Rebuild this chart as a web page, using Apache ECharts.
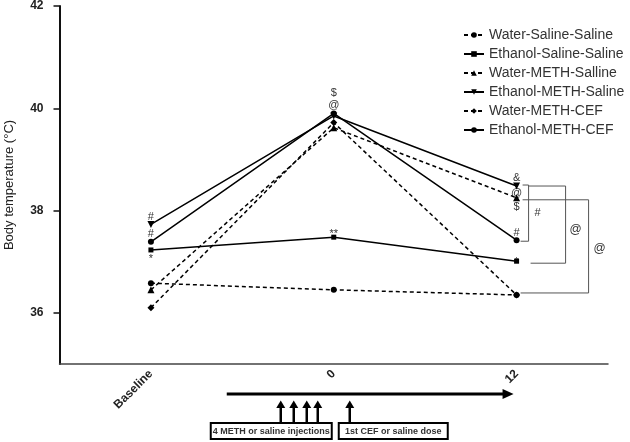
<!DOCTYPE html>
<html>
<head>
<meta charset="utf-8">
<script src="https://cdn.jsdelivr.net/npm/echarts@6/dist/echarts.min.js"></script>
<style>html,body{margin:0;padding:0;background:#fff}#c{width:630px;height:442px}</style>
</head>
<body>
<div id="c"></div>
<script>
var categories = ['Baseline', '0', '12'];
var yTicks = [36, 38, 40, 42];
var seriesNames = ['Water-Saline-Saline', 'Ethanol-Saline-Saline', 'Water-METH-Salline', 'Ethanol-METH-Saline', 'Water-METH-CEF', 'Ethanol-METH-CEF'];
var waterSalineSaline = [36.58, 36.45, 36.35];
var ethanolSalineSaline = [37.23, 37.48, 37.01];
var waterMethSaline = [36.45, 39.62, 38.25];
var ethanolMethSaline = [37.73, 39.85, 38.48];
var waterMethCef = [36.10, 39.72, 36.35];
var ethanolMethCef = [37.39, 39.90, 37.42];
var injectionText = '4 METH or saline injections';
var doseText = '1st CEF or saline dose';

var FONT = '"Liberation Sans", Arial, sans-serif';
var chart = echarts.init(document.getElementById('c'), null, {renderer: 'canvas'});

function mk(name, data, dashed, symbol, size, rot) {
  return {
    name: name, type: 'line', data: data,
    symbol: symbol, symbolSize: size, symbolRotate: rot || 0,
    itemStyle: {color: '#000'},
    lineStyle: {color: '#000', width: 1.5, type: dashed ? [4, 3] : 'solid'},
    emphasis: {disabled: true}
  };
}

var option = {
  animation: false,
  grid: {left: 59.5, right: 22, top: 6, bottom: 78, containLabel: false, outerBoundsMode: 'none'},
  legend: {
    orient: 'vertical', left: 458, top: 23,
    itemWidth: 20, itemHeight: 7, itemGap: 5,
    textStyle: {fontFamily: FONT, fontSize: 14, color: '#333', lineHeight: 14},
    data: seriesNames
  },
  xAxis: {
    type: 'category', data: categories, boundaryGap: true,
    axisLine: {lineStyle: {color: '#444', width: 1.5}},
    axisTick: {alignWithLabel: true, length: 5, lineStyle: {color: '#444', width: 1.5}},
    axisLabel: {rotate: 45, margin: 8, fontFamily: FONT, fontSize: 12, fontWeight: 'bold', color: '#222'}
  },
  yAxis: {
    type: 'value', min: 35, max: 42,
    name: 'Body temperature (\u00B0C)', nameLocation: 'middle', nameGap: 44,
    nameTextStyle: {fontFamily: FONT, fontSize: 13, color: '#222'},
    splitLine: {show: false},
    axisLine: {show: true, lineStyle: {color: '#111', width: 2}},
    axisTick: {show: true, length: 6, customValues: yTicks, lineStyle: {color: '#111', width: 1.5}},
    axisLabel: {customValues: yTicks, margin: 16, fontFamily: FONT, fontSize: 12, fontWeight: 'bold', color: '#222'}
  },
  series: [
    mk(seriesNames[0], waterSalineSaline, true, 'circle', 6),
    mk(seriesNames[1], ethanolSalineSaline, false, 'rect', 5),
    mk(seriesNames[2], waterMethSaline, true, 'triangle', 7),
    mk(seriesNames[3], ethanolMethSaline, false, 'triangle', 7, 180),
    mk(seriesNames[4], waterMethCef, true, 'diamond', 7),
    mk(seriesNames[5], ethanolMethCef, false, 'circle', 6)
  ]
};
chart.setOption(option);

function px(ci, v) { return chart.convertToPixel({xAxisIndex: 0, yAxisIndex: 0}, [ci, v]); }
var g = [];
function txt(s, x, y, size, weight, align) {
  g.push({type: 'text', silent: true, style: {text: s, x: x, y: y, fill: '#333', fontFamily: FONT, fontSize: size || 11, fontWeight: weight || 'normal', align: align || 'center', verticalAlign: 'middle'}});
}
function ln(x1, y1, x2, y2, w, c) {
  g.push({type: 'line', silent: true, shape: {x1: x1, y1: y1, x2: x2, y2: y2}, style: {stroke: c || '#555', lineWidth: w || 1}});
}
function poly(pts) {
  g.push({type: 'polygon', silent: true, shape: {points: pts}, style: {fill: '#000'}});
}

// significance marks
var b0 = px(0, ethanolMethSaline[0]); txt('#', b0[0], b0[1] - 7);
var b1 = px(0, ethanolMethCef[0]); txt('#', b1[0], b1[1] - 8);
var b2 = px(0, ethanolSalineSaline[0]); txt('*', b2[0], b2[1] + 9);
var z0 = px(1, ethanolMethCef[1]); txt('@', z0[0], z0[1] - 8); txt('$', z0[0], z0[1] - 20);
var z1 = px(1, ethanolSalineSaline[1]); txt('**', z1[0], z1[1] - 3);
var t0 = px(2, ethanolMethSaline[2]); txt('&', t0[0], t0[1] - 8);
var t1 = px(2, waterMethSaline[2]); txt('@', t1[0], t1[1] - 5); txt('$', t1[0], t1[1] + 9);
var t2 = px(2, ethanolMethCef[2]); txt('#', t2[0], t2[1] - 7);
var t3 = px(2, ethanolSalineSaline[2]); txt('*', t3[0], t3[1] + 1);
var t4 = px(2, waterSalineSaline[2]);

// brackets
var x12 = t0[0];
ln(x12 + 6, t0[1] - 1, x12 + 12, t0[1] - 1); ln(x12 + 12, t0[1] - 1, x12 + 12, t2[1] + 1); ln(x12 + 4, t2[1] + 1, x12 + 12, t2[1] + 1);
txt('#', x12 + 21, (t0[1] + t2[1]) / 2, 11);
ln(x12 + 12, t0[1], x12 + 49, t0[1]); ln(x12 + 49, t0[1], x12 + 49, t3[1] + 2); ln(x12 + 14, t3[1] + 2, x12 + 49, t3[1] + 2);
txt('@', x12 + 59, (t0[1] + t3[1]) / 2 + 6, 12);
ln(x12 + 6, t1[1] + 2, x12 + 72, t1[1] + 2); ln(x12 + 72, t1[1] + 2, x12 + 72, t4[1] - 2); ln(x12 + 4, t4[1] - 2, x12 + 72, t4[1] - 2);
txt('@', x12 + 83, (t1[1] + t4[1]) / 2 + 2, 12);

// timeline
var x0 = px(1, 35)[0], axY = px(1, 35)[1];
var ty = axY + 30;
ln(x0 - 107, ty, x12 - 12, ty, 3, '#000');
poly([[x12 - 14, ty - 5], [x12 - 14, ty + 5], [x12 - 3, ty]]);
var arrows = [x0 - 53, x0 - 40, x0 - 27, x0 - 16, x0 + 16];
arrows.forEach(function (ax) {
  ln(ax, ty + 12, ax, ty + 29, 2.5, '#000');
  poly([[ax - 4.5, ty + 14], [ax + 4.5, ty + 14], [ax, ty + 6.5]]);
});
g.push({type: 'rect', silent: true, shape: {x: x0 - 123, y: ty + 29, width: 121, height: 16}, style: {fill: '#fff', stroke: '#000', lineWidth: 2}});
g.push({type: 'rect', silent: true, shape: {x: x0 + 5, y: ty + 29, width: 109, height: 16}, style: {fill: '#fff', stroke: '#000', lineWidth: 2}});
txt(injectionText, x0 - 62.5, ty + 37.5, 9, 'bold');
txt(doseText, x0 + 59.5, ty + 37.5, 9, 'bold');

chart.setOption({graphic: g});
</script>
</body>
</html>
